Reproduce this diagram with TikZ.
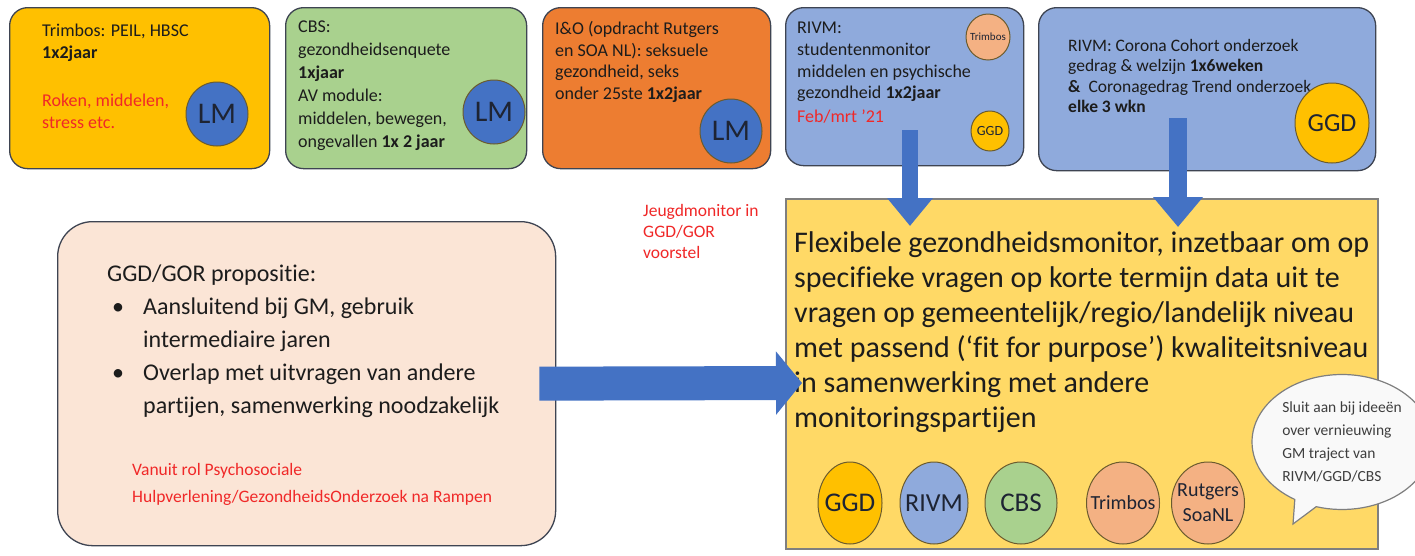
\documentclass[tikz,border=0pt]{standalone}
\usepackage{fontspec}
\setmainfont{Carlito}[Ligatures={TeX,NoCommon}]
\usetikzlibrary{arrows.meta,shapes.geometric,shapes.callouts}
\definecolor{GMgoud}{HTML}{FFC000}
\definecolor{GMgroen}{HTML}{A9D18E}
\definecolor{GMoranje}{HTML}{ED7D31}
\definecolor{GMblauw}{HTML}{8FAADC}
\definecolor{GMdonkerblauw}{HTML}{4472C4}
\definecolor{GMperzik}{HTML}{F4B183}
\definecolor{GMroze}{HTML}{FBE5D6}
\definecolor{GMlichtgeel}{HTML}{FFD966}
\definecolor{GMrood}{HTML}{F02828}
\definecolor{GMrand}{HTML}{3E4452}
\definecolor{GMbolrand}{HTML}{6B5B2E}
\definecolor{GMtekst}{HTML}{1C1C1C}
\definecolor{GMnavy}{HTML}{1E2433}
\definecolor{GMgrijs}{HTML}{7F7F7F}
\newcommand{\vakfont}{\fontsize{18}{21.7}\selectfont}
\newcommand{\orgbol}[8]{%
  \node[bol, fill=#6, minimum width=#4pt, minimum height=#5pt] (#1) at (#2,#3) {};
  \node[align=center, inner sep=0pt, text=GMnavy,
        font=\fontsize{#7}{25}\selectfont] at (#1) {#8};}
\newcommand{\lmbol}[3]{%
  \orgbol{#1}{#2}{#3}{62}{64}{GMdonkerblauw}{30}{LM}}
\newcommand{\dikkepijl}[5]{%
  \draw[GMdonkerblauw, line width=#3, -{Triangle[width=#4, length=#5]}] #1 -- #2;}

\begin{document}
\begin{tikzpicture}[x=1pt, y=-1pt,
  vak/.style={draw=GMrand, line width=1.3pt, rounded corners=18pt,
              anchor=north west, inner sep=0pt},
  vaktekst/.style={anchor=north west, align=left, inner sep=0pt,
                   text=GMtekst, font=\vakfont},
  rood/.style={vaktekst, text=GMrood},
  bol/.style={ellipse, draw=GMbolrand, line width=1pt, inner sep=0pt}]

\useasboundingbox[fill=white] (0,0) rectangle (1415,555);

% ====================================================================
%
%         Bovenste rij: bestaande monitors
%
% ====================================================================

  % Trimbos
  \node[vak, fill=GMgoud, minimum width=260pt, minimum height=161pt] (trimbos) at (9,7) {};
  \node[vaktekst] (trimbostekst) at (42,24) {Trimbos: PEIL, HBSC\\\textbf{1x2jaar}};
  \node[rood] (trimbosrood) at (42,94) {Roken, middelen,\\stress etc.};
  \lmbol{lmtrimbos}{217}{114}

  % CBS
  \node[vak, fill=GMgroen, minimum width=241pt, minimum height=161pt] (cbs) at (285,7) {};
  \node[vaktekst, font=\fontsize{18}{23}\selectfont] (cbstekst) at (298,21)
    {CBS:\\gezondheidsenquete\\\textbf{1xjaar}\\AV module:\\middelen, bewegen,\\ongevallen \textbf{1x 2 jaar}};
  \lmbol{lmcbs}{494}{112}

  % I&O
  \node[vak, fill=GMoranje, minimum width=228pt, minimum height=161pt] (io) at (542,7) {};
  \node[vaktekst] (iotekst) at (555,21)
    {I\&O (opdracht Rutgers\\en SOA NL): seksuele\\gezondheid, seks\\onder 25ste \textbf{1x2jaar}};
  \lmbol{lmio}{731}{131}

  % RIVM studentenmonitor
  \node[vak, fill=GMblauw, minimum width=238pt, minimum height=158pt] (studenten) at (785,7) {};
  \node[vaktekst] (studententekst) at (797,22)
    {RIVM:\\studentenmonitor\\middelen en psychische\\gezondheid \textbf{1x2jaar}};
  \node[rood] (studentenrood) at (797,110) {Feb/mrt '21};
  \orgbol{trimbosklein}{988}{37}{44}{46}{GMperzik}{11}{Trimbos}
  \orgbol{ggdklein}{990}{131}{38}{40}{GMgoud}{14}{GGD}

  % RIVM corona
  \node[vak, fill=GMblauw, minimum width=337pt, minimum height=163pt] (corona) at (1038,7) {};
  \node[vaktekst, font=\fontsize{17.5}{20.5}\selectfont] (coronatekst) at (1068,39)
    {RIVM: Corona Cohort onderzoek\\gedrag \& welzijn \textbf{1x6weken}\\\textbf{\&}\ \ Coronagedrag Trend onderzoek\\\textbf{elke 3 wkn}};
  \orgbol{ggdcorona}{1332}{123}{74}{80}{GMgoud}{26}{GGD}

% ====================================================================
%
%         Propositie en flexibele monitor
%
% ====================================================================

  % Propositie links
  \node[draw=GMrand, line width=1.3pt, fill=GMroze, rounded corners=35pt, anchor=north west,
        minimum width=498pt, minimum height=324pt, inner sep=0pt] (propositie) at (57,221) {};
  \node[vaktekst, font=\fontsize{24}{33}\selectfont] (propositietekst) at (107,265)
    {GGD/GOR propositie:\\
     \makebox[36pt][l]{\hspace{5pt}\textbullet}Aansluitend bij GM, gebruik\\
     \hspace*{36pt}intermediaire jaren\\
     \makebox[36pt][l]{\hspace{5pt}\textbullet}Overlap met uitvragen van andere\\
     \hspace*{36pt}partijen, samenwerking noodzakelijk};
  \node[rood, font=\fontsize{17.5}{27}\selectfont] (propositierood) at (132,463)
    {Vanuit rol Psychosociale\\Hulpverlening/GezondheidsOnderzoek na Rampen};

  % Jeugdmonitor
  \node[rood, font=\fontsize{17.5}{21}\selectfont] (jeugdmonitor) at (643,204)
    {Jeugdmonitor in\\GGD/GOR\\voorstel};

  % Flexibele monitor rechts
  \node[draw=GMgrijs, line width=1.5pt, fill=GMlichtgeel, anchor=north west,
        minimum width=592pt, minimum height=350pt, inner sep=0pt] (flex) at (785,198) {};
  \node[vaktekst, font=\fontsize{30}{35}\selectfont] (flextekst) at (794,231)
    {Flexibele gezondheidsmonitor, inzetbaar om op\\
     specifieke vragen op korte termijn data uit te\\
     vragen op gemeentelijk/regio/landelijk niveau\\
     met passend (‘fit for purpose’) kwaliteitsniveau\\
     in samenwerking met andere\\
     monitoringspartijen};

  % Partijen
  \orgbol{ggd}{850}{503}{64}{82}{GMgoud}{27}{GGD}
  \orgbol{rivm}{934}{503}{68}{82}{GMblauw}{26}{RIVM}
  \orgbol{cbsbol}{1021}{503}{72}{82}{GMgroen}{27}{CBS}
  \orgbol{trimbosbol}{1123}{503}{73}{82}{GMperzik}{20}{Trimbos}
  \orgbol{rutgers}{1208}{503}{73}{82}{GMperzik}{20}{Rutgers\\SoaNL}

% ====================================================================
%
%         Pijlen
%
% ====================================================================

  \coordinate (pijlstudent) at (910,130);
  \coordinate (pijlstudenteind) at (910,226);
  \coordinate (pijlcorona) at (1178,118);
  \coordinate (pijlcoronaeind) at (1178,227);
  \coordinate (pijlflex) at (802,383);

  \dikkepijl{(pijlstudent)}{(pijlstudenteind)}{16pt}{44pt}{28pt}
  \dikkepijl{(pijlcorona)}{(pijlcoronaeind)}{18pt}{48pt}{30pt}
  \dikkepijl{([xshift=-17pt]propositie.east)}{(pijlflex)}{34pt}{62pt}{26pt}

  % Wolkje
  \node[ellipse callout, draw=GMgrijs, line width=1.2pt, fill=white!95!gray,
        minimum width=180pt, minimum height=135pt, inner sep=0pt,
        callout absolute pointer={(1293,524)}, align=left, text=GMtekst!85!white,
        font=\fontsize{15.5}{23}\selectfont] (wolk) at (1342,442)
    {Sluit aan bij ideeën\\over vernieuwing\\GM traject van\\RIVM/GGD/CBS};

\end{tikzpicture}
\end{document}
